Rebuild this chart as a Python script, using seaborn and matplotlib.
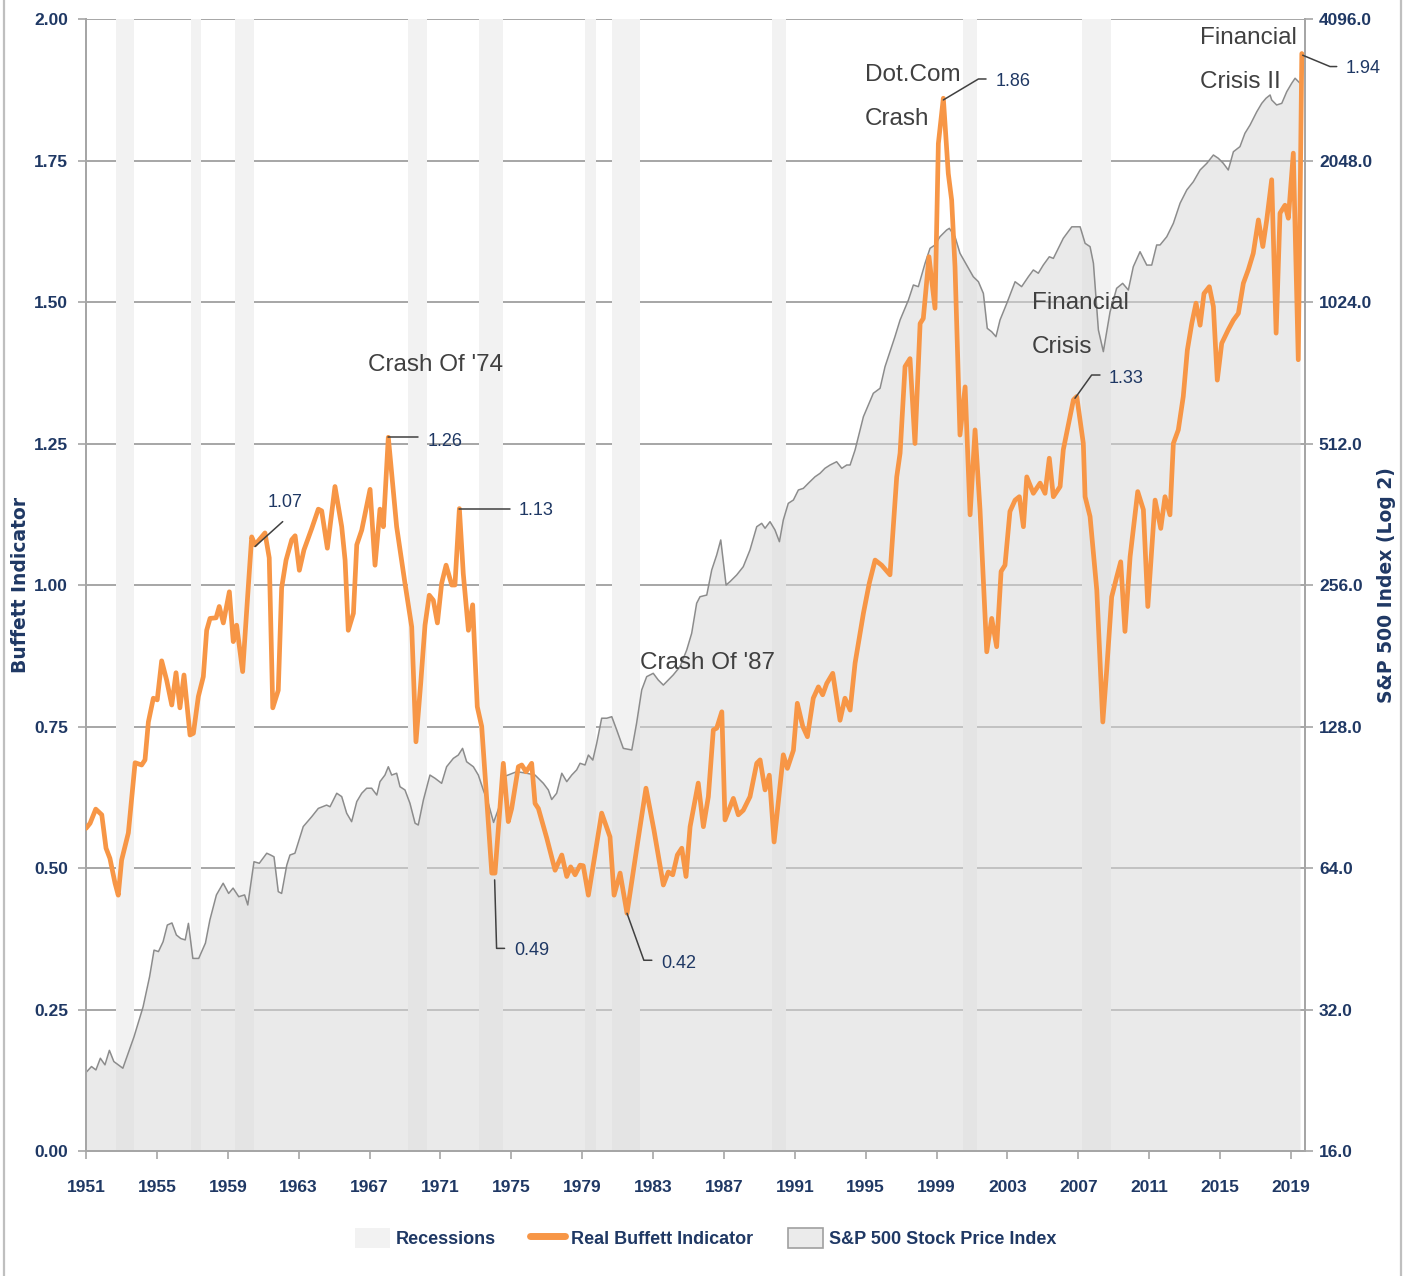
import matplotlib
matplotlib.use("Agg")
import matplotlib.pyplot as plt
import numpy as np
import seaborn as sns
from matplotlib.lines import Line2D
from matplotlib.patches import Patch
from matplotlib.ticker import FixedLocator, FuncFormatter, NullLocator

# recession bands (chart years)
rec_start = [1952.68, 1956.93, 1959.41, 1969.17, 1973.20, 1979.18, 1980.70, 1989.71, 2000.49, 2007.22]
rec_end = [1953.71, 1957.49, 1960.48, 1970.26, 1974.52, 1979.76, 1982.28, 1990.50, 2001.27, 2008.83]

# Real Buffett Indicator
bi_year = [
    1951.00, 1951.23, 1951.55, 1951.89, 1952.13, 1952.35, 1952.64, 1952.82, 1953.01, 1953.39,
    1953.77, 1954.14, 1954.33, 1954.52, 1954.80, 1955.02, 1955.27, 1955.55, 1955.84, 1956.08,
    1956.30, 1956.53, 1956.87, 1957.06, 1957.34, 1957.62, 1957.81, 1958.00, 1958.34, 1958.52,
    1958.75, 1959.09, 1959.31, 1959.50, 1959.84, 1960.07, 1960.35, 1960.54, 1961.10, 1961.34,
    1961.54, 1961.85, 1962.04, 1962.29, 1962.61, 1962.80, 1963.04, 1963.30, 1963.74, 1964.11,
    1964.30, 1964.62, 1965.05, 1965.43, 1965.62, 1965.80, 1966.09, 1966.28, 1966.56, 1967.03,
    1967.31, 1967.59, 1967.78, 1968.06, 1968.53, 1969.00, 1969.38, 1969.62, 1969.89, 1970.13,
    1970.37, 1970.60, 1970.83, 1971.07, 1971.32, 1971.64, 1971.82, 1972.07, 1972.29, 1972.58,
    1972.82, 1973.08, 1973.33, 1973.90, 1974.08, 1974.55, 1974.83, 1975.02, 1975.40, 1975.59,
    1975.83, 1976.15, 1976.34, 1976.53, 1977.00, 1977.47, 1977.85, 1978.13, 1978.35, 1978.60,
    1978.88, 1979.06, 1979.35, 1980.10, 1980.57, 1980.80, 1981.14, 1981.53, 1982.08, 1982.60,
    1983.05, 1983.58, 1983.86, 1984.11, 1984.37, 1984.62, 1984.86, 1985.09, 1985.55, 1985.84,
    1986.12, 1986.40, 1986.59, 1986.88, 1987.06, 1987.53, 1987.81, 1988.09, 1988.47, 1988.85,
    1989.04, 1989.32, 1989.56, 1989.83, 1990.35, 1990.58, 1990.92, 1991.14, 1991.45, 1991.71,
    1992.04, 1992.33, 1992.57, 1992.80, 1993.14, 1993.55, 1993.83, 1994.12, 1994.40, 1994.87,
    1995.20, 1995.53, 1995.90, 1996.37, 1996.75, 1996.94, 1997.22, 1997.50, 1997.78, 1998.07,
    1998.25, 1998.57, 1998.91, 1999.10, 1999.38, 1999.66, 1999.85, 2000.04, 2000.32, 2000.61,
    2000.89, 2001.17, 2001.45, 2001.83, 2002.11, 2002.39, 2002.64, 2002.86, 2003.14, 2003.43,
    2003.67, 2003.90, 2004.09, 2004.46, 2004.84, 2005.12, 2005.36, 2005.59, 2005.97, 2006.15,
    2006.72, 2006.91, 2007.28, 2007.38, 2007.66, 2008.04, 2008.38, 2008.60, 2008.88, 2009.17,
    2009.39, 2009.63, 2009.92, 2010.35, 2010.67, 2010.92, 2011.33, 2011.65, 2011.89, 2012.17,
    2012.36, 2012.64, 2012.92, 2013.15, 2013.40, 2013.64, 2013.87, 2014.09, 2014.39, 2014.62,
    2014.84, 2015.09, 2015.46, 2015.75, 2016.03, 2016.31, 2016.59, 2016.87, 2017.16, 2017.41,
    2017.63, 2017.91, 2018.16, 2018.38, 2018.66, 2018.85, 2019.13, 2019.41, 2019.61,
]
bi_value = [
    0.570, 0.579, 0.604, 0.594, 0.535, 0.517, 0.473, 0.452, 0.514, 0.562,
    0.686, 0.682, 0.691, 0.758, 0.800, 0.797, 0.866, 0.832, 0.788, 0.845,
    0.783, 0.841, 0.735, 0.738, 0.803, 0.838, 0.920, 0.941, 0.942, 0.962,
    0.933, 0.988, 0.900, 0.929, 0.847, 0.956, 1.085, 1.071, 1.092, 1.048,
    0.783, 0.814, 0.995, 1.044, 1.080, 1.087, 1.026, 1.062, 1.100, 1.134,
    1.131, 1.065, 1.174, 1.103, 1.044, 0.920, 0.950, 1.071, 1.097, 1.169,
    1.035, 1.134, 1.103, 1.261, 1.103, 1.003, 0.926, 0.723, 0.827, 0.929,
    0.982, 0.973, 0.933, 1.003, 1.035, 1.000, 1.000, 1.135, 1.020, 0.920,
    0.965, 0.785, 0.750, 0.491, 0.491, 0.685, 0.582, 0.605, 0.679, 0.682,
    0.670, 0.685, 0.614, 0.605, 0.553, 0.496, 0.523, 0.485, 0.502, 0.488,
    0.505, 0.504, 0.452, 0.597, 0.555, 0.452, 0.491, 0.420, 0.535, 0.641,
    0.567, 0.470, 0.493, 0.488, 0.523, 0.535, 0.485, 0.573, 0.650, 0.573,
    0.626, 0.744, 0.747, 0.776, 0.585, 0.623, 0.594, 0.602, 0.626, 0.685,
    0.691, 0.638, 0.664, 0.546, 0.700, 0.676, 0.708, 0.791, 0.750, 0.732,
    0.800, 0.820, 0.806, 0.826, 0.844, 0.761, 0.800, 0.779, 0.862, 0.950,
    1.003, 1.044, 1.035, 1.018, 1.191, 1.233, 1.386, 1.400, 1.250, 1.462,
    1.471, 1.580, 1.489, 1.780, 1.860, 1.727, 1.680, 1.562, 1.265, 1.350,
    1.124, 1.274, 1.133, 0.882, 0.941, 0.891, 1.024, 1.035, 1.130, 1.150,
    1.156, 1.103, 1.191, 1.162, 1.180, 1.162, 1.224, 1.156, 1.174, 1.239,
    1.327, 1.333, 1.250, 1.156, 1.121, 0.991, 0.758, 0.850, 0.979, 1.015,
    1.041, 0.918, 1.050, 1.165, 1.133, 0.962, 1.150, 1.100, 1.156, 1.124,
    1.250, 1.274, 1.333, 1.415, 1.462, 1.498, 1.459, 1.515, 1.527, 1.492,
    1.362, 1.427, 1.451, 1.468, 1.480, 1.533, 1.557, 1.586, 1.645, 1.598,
    1.645, 1.716, 1.445, 1.657, 1.671, 1.648, 1.763, 1.398, 1.939,
]

# S&P 500 Stock Price Index
sp_year = [
    1951.00, 1951.31, 1951.56, 1951.81, 1952.07, 1952.32, 1952.57, 1953.08, 1953.71, 1954.22,
    1954.59, 1954.84, 1955.09, 1955.35, 1955.59, 1955.85, 1956.10, 1956.35, 1956.60, 1956.78,
    1957.03, 1957.36, 1957.74, 1957.99, 1958.36, 1958.74, 1959.05, 1959.30, 1959.62, 1959.95,
    1960.13, 1960.48, 1960.78, 1961.20, 1961.42, 1961.61, 1961.85, 1962.04, 1962.33, 1962.51,
    1962.79, 1963.26, 1963.74, 1964.11, 1964.58, 1964.77, 1965.15, 1965.43, 1965.71, 1965.99,
    1966.28, 1966.56, 1966.84, 1967.12, 1967.41, 1967.59, 1967.87, 1968.06, 1968.25, 1968.53,
    1968.72, 1969.00, 1969.28, 1969.57, 1969.75, 1970.04, 1970.41, 1970.70, 1971.07, 1971.35,
    1971.73, 1972.01, 1972.25, 1972.48, 1972.86, 1973.14, 1973.42, 1973.70, 1974.00, 1974.30,
    1974.55, 1975.31, 1975.87, 1976.34, 1976.81, 1977.09, 1977.28, 1977.56, 1977.85, 1978.13,
    1978.41, 1978.69, 1978.88, 1979.16, 1979.35, 1979.60, 1979.82, 1980.10, 1980.39, 1980.67,
    1980.95, 1981.32, 1981.80, 1982.07, 1982.36, 1982.64, 1983.01, 1983.29, 1983.58, 1983.86,
    1984.14, 1984.52, 1984.90, 1985.18, 1985.46, 1985.65, 1986.03, 1986.31, 1986.59, 1986.82,
    1987.12, 1987.34, 1987.72, 1988.09, 1988.47, 1988.85, 1989.13, 1989.32, 1989.60, 1989.88,
    1990.13, 1990.35, 1990.63, 1990.92, 1991.20, 1991.48, 1991.76, 1992.14, 1992.42, 1992.70,
    1992.99, 1993.36, 1993.65, 1993.93, 1994.12, 1994.40, 1994.87, 1995.43, 1995.81, 1996.09,
    1996.65, 1996.94, 1997.41, 1997.69, 1997.97, 1998.35, 1998.63, 1998.91, 1999.19, 1999.57,
    1999.72, 2000.04, 2000.32, 2000.70, 2001.07, 2001.36, 2001.64, 2001.86, 2002.11, 2002.35,
    2002.58, 2002.96, 2003.43, 2003.80, 2004.18, 2004.46, 2004.74, 2005.02, 2005.36, 2005.59,
    2005.87, 2006.15, 2006.63, 2007.10, 2007.38, 2007.66, 2007.85, 2008.13, 2008.41, 2008.79,
    2009.16, 2009.50, 2009.82, 2010.10, 2010.48, 2010.86, 2011.14, 2011.42, 2011.61, 2011.99,
    2012.36, 2012.74, 2013.12, 2013.49, 2013.87, 2014.25, 2014.62, 2014.90, 2015.18, 2015.46,
    2015.75, 2016.12, 2016.40, 2016.69, 2017.07, 2017.35, 2017.59, 2017.82, 2017.91, 2018.19,
    2018.48, 2018.76, 2019.04, 2019.23, 2019.51,
]
sp_value = [
    23.5, 24.2, 23.8, 25.2, 24.4, 26.2, 24.8, 24.0, 28.0, 32.4,
    37.6, 42.8, 42.5, 44.6, 48.4, 48.9, 46.1, 45.3, 45.0, 48.8,
    41.1, 41.1, 44.3, 49.6, 56.1, 59.4, 56.5, 58.0, 55.6, 56.1,
    53.4, 66.0, 65.5, 68.8, 68.2, 67.6, 57.0, 56.5, 64.9, 68.2,
    68.8, 78.4, 82.3, 85.7, 87.1, 86.4, 92.3, 90.8, 83.7, 80.3,
    88.6, 92.3, 94.6, 94.6, 91.5, 97.7, 100.9, 105.1, 100.9, 101.8,
    95.3, 93.8, 87.9, 79.7, 79.0, 89.3, 100.9, 99.3, 96.9, 105.1,
    109.5, 111.3, 115.0, 107.7, 105.1, 100.9, 93.8, 87.9, 80.0, 86.0,
    100.0, 102.6, 101.8, 100.9, 96.9, 93.8, 89.5, 92.3, 101.8, 97.7,
    100.9, 103.5, 106.9, 106.0, 111.3, 108.6, 117.9, 133.3, 133.3, 134.3,
    125.8, 115.0, 114.1, 130.0, 153.1, 163.4, 166.1, 160.8, 156.8, 160.8,
    164.8, 171.6, 186.2, 202.1, 234.1, 241.7, 243.7, 275.5, 296.5, 319.2,
    256.0, 260.2, 268.9, 280.0, 303.9, 340.6, 346.3, 338.0, 349.1, 335.2,
    316.5, 352.0, 381.9, 388.2, 407.7, 411.0, 421.3, 435.0, 442.3, 453.4,
    460.8, 468.3, 453.4, 460.8, 460.8, 496.0, 583.8, 654.8, 671.0, 745.9,
    864.0, 937.6, 1034, 1113, 1104, 1238, 1332, 1354, 1410, 1457,
    1469, 1410, 1300, 1227, 1159, 1131, 1068, 900, 885, 864,
    937.6, 1017, 1131, 1104, 1159, 1198, 1179, 1227, 1278, 1268,
    1332, 1399, 1480, 1480, 1365, 1343, 1238, 893, 803, 976,
    1095, 1122, 1086, 1217, 1310, 1227, 1227, 1354, 1354, 1410,
    1505, 1661, 1773, 1846, 1955, 2020, 2104, 2070, 2020, 1955,
    2138, 2192, 2340, 2437, 2601, 2710, 2778, 2823, 2755, 2688,
    2710, 2869, 2990, 3064, 2990,
]

x_ticks = list(range(1951, 2020, 4))
left_ticks = [0.0, 0.25, 0.5, 0.75, 1.0, 1.25, 1.5, 1.75, 2.0]
right_ticks = [16, 32, 64, 128, 256, 512, 1024, 2048, 4096]

NAVY = "#1F3864"
DARK = "#404040"
ORANGE = "#F79646"
GRID = "#A6A6A6"

sns.set_style("white")
plt.rcParams["font.family"] = ["Liberation Sans", "DejaVu Sans"]

fig = plt.figure(figsize=(14.11, 12.76), dpi=100)
ax = fig.add_axes([0.06095, 0.09796, 0.86393, 0.88715])
ax2 = ax.twinx()

# right axis: S&P on log2 scale, carries grid, recession bands and area
ax2.set_yscale("log", base=2)
ax2.set_ylim(16, 4096)
ax2.yaxis.set_major_locator(FixedLocator(right_ticks))
ax2.yaxis.set_minor_locator(NullLocator())
ax2.yaxis.set_major_formatter(FuncFormatter(lambda v, p: f"{v:.1f}"))
ax2.set_axisbelow(True)
ax2.grid(axis="y", color=GRID, lw=1.4)
ax2.grid(axis="x", visible=False)

for s, e in zip(rec_start, rec_end):
    ax2.axvspan(s, e, color="#F2F2F2", lw=0, zorder=1)

ax2.fill_between(sp_year, sp_value, 16, color="#D9D9D9", alpha=0.55, lw=0, zorder=2)
sns.lineplot(x=sp_year, y=sp_value, ax=ax2, color="#8C8C8C", lw=1.1,
             estimator=None, sort=False, zorder=3)

# left axis on top
ax.set_zorder(ax2.get_zorder() + 1)
ax.patch.set_visible(False)
sns.lineplot(x=bi_year, y=bi_value, ax=ax, color=ORANGE, lw=3.4,
             estimator=None, sort=False, zorder=5)

ax.set_xlim(1951, 2019.79)
ax.set_ylim(0, 2)
ax.set_xticks(x_ticks)
ax.set_xticklabels([str(t) for t in x_ticks])
ax.set_yticks(left_ticks)
ax.set_yticklabels([f"{v:.2f}" for v in left_ticks])
ax.grid(False)

for a in (ax, ax2):
    a.spines["top"].set_visible(False)
    for side in ("left", "right", "bottom"):
        a.spines[side].set_color(GRID)
        a.spines[side].set_linewidth(1.4)

ax.tick_params(axis="x", bottom=True, direction="out", length=6, width=1.2,
               color=GRID, labelcolor=NAVY, labelsize=12.5, pad=15)
ax.tick_params(axis="y", left=True, direction="out", length=6, width=1.2,
               color=GRID, labelcolor=NAVY, labelsize=12.5, pad=7)
ax2.tick_params(axis="y", right=True, direction="out", length=6, width=1.2,
                color=GRID, labelcolor=NAVY, labelsize=12.5, pad=4)
for lab in ax.get_xticklabels() + ax.get_yticklabels() + ax2.get_yticklabels():
    lab.set_fontweight("bold")

ax.set_xlabel("")
ax.set_ylabel("Buffett Indicator", color=NAVY, fontsize=13.5, fontweight="bold",
              family="DejaVu Sans")
ax.yaxis.set_label_coords(-0.046, 0.5)
ax2.set_ylabel("S&P 500 Index (Log 2)", color=NAVY, fontsize=13.5, fontweight="bold",
               family="DejaVu Sans", rotation=90)
ax2.yaxis.set_label_coords(1.059, 0.5)

# event titles
events = [
    ("Crash Of '74", 1970.70, 1.389, "center"),
    ("Dot.Com\nCrash", 1994.96, 1.862, "left"),
    ("Financial\nCrisis II", 2013.87, 1.928, "left"),
    ("Financial\nCrisis", 2004.39, 1.459, "left"),
    ("Crash Of '87", 1986.05, 0.862, "center"),
]
for txt, x, y, ha in events:
    ax.text(x, y, txt, ha=ha, va="center", fontsize=17.5, color=DARK,
            linespacing=2.3, zorder=7)

# value call-outs with leader lines
callouts = [
    ("1.07", [(1960.54, 1.068), (1962.10, 1.112)], (1962.23, 1.145), "center"),
    ("1.26", [(1968.06, 1.261), (1969.74, 1.261)], (1970.30, 1.254), "left"),
    ("1.13", [(1972.07, 1.134), (1974.93, 1.134)], (1975.44, 1.131), "left"),
    ("0.49", [(1974.06, 0.479), (1974.17, 0.358), (1974.62, 0.358)], (1975.15, 0.355), "left"),
    ("0.42", [(1981.53, 0.420), (1982.48, 0.337), (1982.93, 0.337)], (1983.45, 0.332), "left"),
    ("1.86", [(1999.38, 1.857), (2001.36, 1.894), (2001.79, 1.894)], (2002.35, 1.889), "left"),
    ("1.33", [(2006.81, 1.330), (2007.75, 1.371), (2008.22, 1.371)], (2008.73, 1.364), "left"),
    ("1.94", [(2019.66, 1.936), (2021.20, 1.916), (2021.58, 1.916)], (2022.11, 1.912), "left"),
]
for txt, pts, pos, ha in callouts:
    xs, ys = zip(*pts)
    ax.plot(xs, ys, color=DARK, lw=1.1, clip_on=False, zorder=6)
    ax.text(pos[0], pos[1], txt, ha=ha, va="center", fontsize=13, color=NAVY,
            clip_on=False, zorder=7)

# legend
handles = [
    Patch(facecolor="#F2F2F2", edgecolor="none"),
    Line2D([0], [0], color=ORANGE, lw=5),
    Patch(facecolor="#EBEBEB", edgecolor="#A0A0A0", lw=1.2),
]
labels = ["Recessions", "Real Buffett Indicator", "S&P 500 Stock Price Index"]
fig.legend(handles, labels, loc="center", bbox_to_anchor=(0.5, 0.0298), ncol=3,
           frameon=False, prop={"weight": "bold", "size": 13}, labelcolor=NAVY,
           handlelength=1.95, handleheight=1.3, columnspacing=1.9, handletextpad=0.33)

# chart-area border lines
for xf in (4 / 1411, 1401 / 1411):
    fig.add_artist(Line2D([xf, xf], [0, 1], transform=fig.transFigure,
                          color="#BFBFBF", lw=1.6))

fig.savefig("out.png", dpi=100)
